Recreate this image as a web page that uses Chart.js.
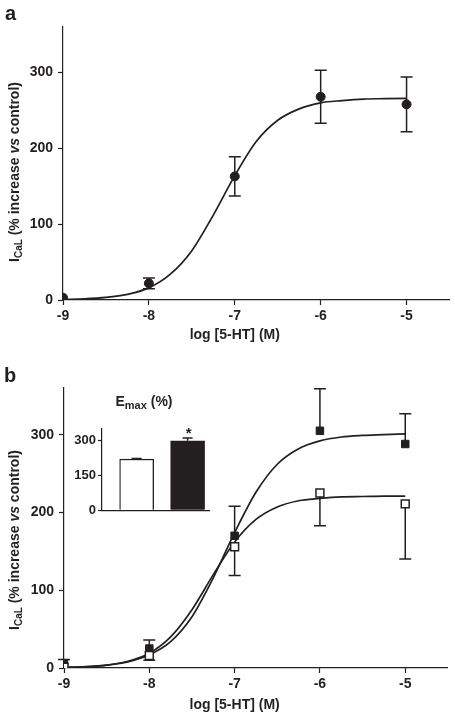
<!DOCTYPE html>
<html>
<head>
<meta charset="utf-8">
<script src="https://cdn.jsdelivr.net/npm/chart.js@4.4.1/dist/chart.umd.min.js"></script>
<style>
    html, body { margin: 0; padding: 0; background: #fff; }
    #wrap { position: relative; width: 455px; height: 713px; overflow: hidden; }
    .box { position: absolute; }
</style>
</head>
<body>
<div id="wrap">
    <div class="box" style="left:0;top:0;width:455px;height:345px"><canvas id="graficoA"></canvas></div>
    <div class="box" style="left:0;top:345px;width:455px;height:368px"><canvas id="graficoB"></canvas></div>
    <div class="box" style="left:60px;top:385px;width:155px;height:135px"><canvas id="graficoEmax"></canvas></div>
</div>
<script>
const INK = '#231f20'
const FONT = "'Liberation Sans', Arial, Helvetica, sans-serif"

// log [5-HT] (M)
const doses = [-9, -8, -7, -6, -5]
const xTicks = [-9, -8, -7, -6, -5]
const yTicks = [0, 100, 200, 300]

// painel a: media e erro
const meanA = [3, 22, 163, 268, 258]
const semA = [0, 7, 26, 35, 36]

// painel b: quadrados cheios e vazios
const meanFilled = [6, 25, 170, 305, 288]
const semFilled = [5, 11, 38, 54, 39]
const meanOpen = [1, 16, 156, 225, 211]
const semOpen = [0, 6, 37, 42, 71]

// curvas ajustadas
const curveX = [-9, -8.75, -8.5, -8.25, -8, -7.75, -7.5, -7.25, -7, -6.75, -6.5, -6.25, -6, -5.75, -5.5, -5.25, -5]
const curveA = [0.7, 1.5, 3.4, 7.5, 16, 34, 65, 112, 164, 209, 237, 252, 260, 263, 265, 265.5, 266]
const curveFilled = [0.8, 1.6, 3.6, 7.8, 17, 34, 66, 116, 174, 226, 262, 282, 292, 297, 299, 300, 301]
const curveOpen = [0.7, 1.7, 3.8, 8.7, 19, 40, 75, 120, 162, 191, 207, 215, 218, 220, 220.5, 221, 221]

// inset Emax (%)
const emaxGroups = [1, 2]
const emaxValues = [220, 299]
const emaxSem = [3, 12]
const emaxTicks = [0, 150, 300]

function pts(xs, ys) {
    return xs.map((x, i) => ({ x: x, y: ys[i] }))
}

const errorBars = {
    id: 'errorBars',
    beforeDatasetsDraw(chart) {
        const ctx = chart.ctx
        const xs = chart.scales.x, ys = chart.scales.y
        chart.data.datasets.forEach(ds => {
            if (!ds.err) return
            const cap = ds.errCap || 6
            ctx.save()
            ctx.strokeStyle = INK
            ctx.lineWidth = 1.5
            ds.data.forEach((p, j) => {
                const e = ds.err[j]
                if (!e) return
                const x = xs.getPixelForValue(p.x)
                const y0 = ys.getPixelForValue(p.y)
                const top = ds.errDir === 'down' ? y0 : ys.getPixelForValue(p.y + e)
                const bot = ds.errDir === 'up' ? y0 : ys.getPixelForValue(p.y - e)
                ctx.beginPath()
                ctx.moveTo(x, top)
                ctx.lineTo(x, bot)
                if (ds.errDir !== 'down') { ctx.moveTo(x - cap, top); ctx.lineTo(x + cap, top) }
                if (ds.errDir !== 'up') { ctx.moveTo(x - cap, bot); ctx.lineTo(x + cap, bot) }
                ctx.stroke()
            })
            ctx.restore()
        })
    }
}

function drawParts(ctx, parts, x, y) {
    parts.forEach(p => {
        ctx.font = p.f
        ctx.fillText(p.t, x, y + (p.dy || 0))
        x += ctx.measureText(p.t).width
    })
}

function partsWidth(ctx, parts) {
    return parts.reduce((w, p) => { ctx.font = p.f; return w + ctx.measureText(p.t).width }, 0)
}

function textos(letter, lx, ly, titleY, yTitleX, yTitleOff) {
    return {
        id: 'textos',
        afterDraw(chart) {
            const ctx = chart.ctx
            const a = chart.chartArea
            ctx.save()
            ctx.fillStyle = INK
            ctx.textBaseline = 'alphabetic'
            ctx.font = `bold 20px ${FONT}`
            ctx.fillText(letter, lx, ly)

            ctx.textAlign = 'center'
            ctx.textBaseline = 'middle'
            ctx.font = `bold 14px ${FONT}`
            ctx.fillText('log [5-HT] (M)', chart.scales.x.getPixelForValue(-7), titleY)

            const parts = [
                { t: 'I', f: `bold 14px ${FONT}` },
                { t: 'CaL', f: `bold 10px ${FONT}`, dy: 4 },
                { t: ' (% increase ', f: `bold 14px ${FONT}` },
                { t: 'vs', f: `italic bold 14px ${FONT}` },
                { t: ' control)', f: `bold 14px ${FONT}` }
            ]
            ctx.textAlign = 'left'
            ctx.translate(yTitleX, (a.top + a.bottom) / 2 + yTitleOff)
            ctx.rotate(-Math.PI / 2)
            drawParts(ctx, parts, -partsWidth(ctx, parts) / 2, 0)
            ctx.restore()
        }
    }
}

function eixoX(h) {
    return {
        type: 'linear',
        min: -9,
        max: -4.5,
        afterBuildTicks: s => { s.ticks = xTicks.map(v => ({ value: v })) },
        afterFit: s => { s.height = h },
        grid: { drawOnChartArea: false, tickLength: 5, color: INK, tickWidth: 1.2 },
        border: { color: INK, width: 1.2 },
        ticks: { color: INK, padding: 3, font: { family: FONT, size: 14, weight: 'bold' }, callback: v => String(v) }
    }
}

function eixoY(w) {
    return {
        type: 'linear',
        min: 0,
        max: 360,
        afterBuildTicks: s => { s.ticks = yTicks.map(v => ({ value: v })) },
        afterFit: s => { s.width = w },
        grid: { drawOnChartArea: false, tickLength: 5, color: INK, tickWidth: 1.2 },
        border: { color: INK, width: 1.2 },
        ticks: { color: INK, padding: 5, font: { family: FONT, size: 14, weight: 'bold' }, callback: v => String(v) }
    }
}

function curva(data) {
    return {
        data: data,
        showLine: true,
        borderColor: INK,
        borderWidth: 1.7,
        pointRadius: 0,
        cubicInterpolationMode: 'monotone',
        fill: false
    }
}

const baseOptions = {
    responsive: true,
    maintainAspectRatio: false,
    animation: false,
    plugins: { legend: { display: false }, tooltip: { enabled: false } }
}

function criarA() {
    new Chart(document.getElementById('graficoA'), {
        type: 'scatter',
        data: {
            datasets: [
                {
                    data: pts(doses, meanA),
                    err: semA,
                    pointStyle: 'circle',
                    pointRadius: 4.5,
                    backgroundColor: INK,
                    borderColor: INK,
                    borderWidth: 1
                },
                curva(pts(curveX, curveA))
            ]
        },
        options: {
            ...baseOptions,
            layout: { padding: { top: 27, right: 3, left: 0, bottom: 0 } },
            scales: { x: eixoX(45), y: eixoY(63) }
        },
        plugins: [errorBars, textos('a', 5, 20, 335, 15, 8.5)]
    })
}

function criarB() {
    new Chart(document.getElementById('graficoB'), {
        type: 'scatter',
        data: {
            datasets: [
                {
                    data: pts(doses, meanOpen),
                    err: semOpen,
                    errDir: 'down',
                    pointStyle: 'rect',
                    pointRadius: 5.6,
                    backgroundColor: '#fff',
                    borderColor: INK,
                    borderWidth: 1.5
                },
                {
                    data: pts(doses, meanFilled),
                    err: semFilled,
                    errDir: 'up',
                    pointStyle: 'rect',
                    pointRadius: 5.3,
                    backgroundColor: INK,
                    borderColor: INK,
                    borderWidth: 1
                },
                curva(pts(curveX, curveFilled)),
                curva(pts(curveX, curveOpen))
            ]
        },
        options: {
            ...baseOptions,
            layout: { padding: { top: 43, right: 0, left: 0, bottom: 0 } },
            scales: { x: eixoX(45), y: eixoY(64) }
        },
        plugins: [errorBars, textos('b', 4, 37, 360, 15, 12)]
    })
}

function criarEmax() {
    const titulo = {
        id: 'tituloEmax',
        afterDraw(chart) {
            const ctx = chart.ctx
            const parts = [
                { t: 'E', f: `bold 14px ${FONT}` },
                { t: 'max', f: `bold 11px ${FONT}`, dy: 4 },
                { t: ' (%)', f: `bold 14px ${FONT}` }
            ]
            ctx.save()
            ctx.fillStyle = INK
            ctx.textBaseline = 'middle'
            drawParts(ctx, parts, 84 - partsWidth(ctx, parts) / 2, 17)
            ctx.textAlign = 'center'
            ctx.textBaseline = 'alphabetic'
            ctx.font = `bold 15px ${FONT}`
            ctx.fillText('*', chart.scales.x.getPixelForValue(emaxGroups[1]) + 1, 53)
            ctx.restore()
        }
    }
    new Chart(document.getElementById('graficoEmax'), {
        type: 'bar',
        data: {
            datasets: [{
                data: pts(emaxGroups, emaxValues),
                err: emaxSem,
                errDir: 'up',
                errCap: 5,
                backgroundColor: ['#fff', INK],
                borderColor: INK,
                borderWidth: 1.3,
                barThickness: 34
            }]
        },
        options: {
            ...baseOptions,
            layout: { padding: { top: 44, right: 6, left: 0, bottom: 0 } },
            scales: {
                x: {
                    type: 'linear',
                    min: 0.32,
                    max: 2.42,
                    offset: false,
                    afterFit: s => { s.height = 6 },
                    ticks: { display: false },
                    grid: { display: false, offset: false },
                    border: { color: INK, width: 1.2 }
                },
                y: {
                    type: 'linear',
                    min: 0,
                    max: 350,
                    afterBuildTicks: s => { s.ticks = emaxTicks.map(v => ({ value: v })) },
                    afterFit: s => { s.width = 42 },
                    grid: { drawOnChartArea: false, tickLength: 4, color: INK, tickWidth: 1.2 },
                    border: { color: INK, width: 1.2 },
                    ticks: { color: INK, padding: 2, font: { family: FONT, size: 13, weight: 'bold' }, callback: v => String(v) }
                }
            }
        },
        plugins: [errorBars, titulo]
    })
}

document.addEventListener('DOMContentLoaded', () => {
    criarA()
    criarB()
    criarEmax()
})
</script>
</body>
</html>
